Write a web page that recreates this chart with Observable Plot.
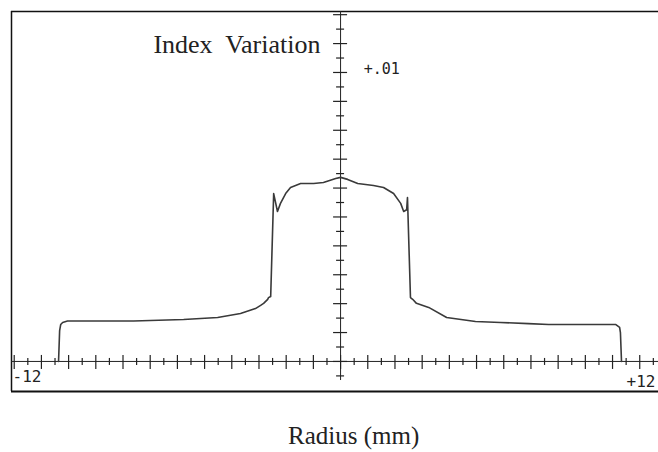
<!DOCTYPE html>
<html>
<head>
<meta charset="utf-8">
<script src="https://cdn.jsdelivr.net/npm/d3@7"></script>
<script src="https://cdn.jsdelivr.net/npm/@observablehq/plot@0.6"></script>
<style>
  html, body { margin: 0; padding: 0; background: #fff; overflow: hidden; }
  svg { display: block; }
  svg text { white-space: pre; }
</style>
</head>
<body>
<div id="chart"></div>
<script>
// Radius (mm)
const radius = [-10.37, -10.33, -10.29, -10.22, -10.04, -8.82, -7.61, -5.77, -4.52, -3.68, -3.13, -2.94, -2.83, -2.68, -2.65, -2.57,
  -2.46, -2.32, -2.21, -2.02, -1.84, -1.47, -0.99, -0.63, -0.18, 0, 0.26, 0.63, 1.21, 1.58, 1.95, 2.21, 2.32, 2.43, 2.46,
  2.57, 2.65, 2.79, 3.24, 3.90, 4.96, 5.88, 6.91, 7.65, 9.56, 10.11, 10.26, 10.29, 10.33];
// Index variation
const indexVariation = [0, 0.00107, 0.00128, 0.00135, 0.00140, 0.00140, 0.00140, 0.00145, 0.00152, 0.00166, 0.00183, 0.00194, 0.00201, 0.00215, 0.00221, 0.00225,
  0.00581, 0.00519, 0.00547, 0.00581, 0.00602, 0.00616, 0.00616, 0.00619, 0.00633, 0.00637, 0.00630, 0.00616, 0.00609, 0.00602, 0.00581, 0.00547, 0.00519, 0.00525, 0.00567,
  0.00221, 0.00215, 0.00201, 0.00187, 0.00152, 0.00138, 0.00135, 0.00131, 0.00128, 0.00128, 0.00128, 0.00118, 0.00100, 0];

const xTickValues = d3.range(-12, 11.51, 0.5);
const yTickValues = d3.range(-0.0005, 0.01201, 0.0005);
const xEndLabels = ["-12", "+12"];
const yLabel = "+.01";

const data = radius.map((r, i) => ({r, v: indexVariation[i]}));

const xDomain = [-12.10, 11.69];
const yDomain = [-0.00104, 0.01211];
const pxY = 1 / 28900;   // one pixel in y units
const pxX = 1 / 27.2;    // one pixel in x units

const isLongX = d => Math.abs(d - Math.round(d)) < 1e-6;
const isLongY = d => Math.abs(d * 1000 - Math.round(d * 1000)) < 1e-6;

const chart = Plot.plot({
  width: 658,
  height: 452,
  marginLeft: 11,
  marginRight: 0,
  marginTop: 11,
  marginBottom: 61,
  x: {domain: xDomain, axis: null},
  y: {domain: yDomain, axis: null},
  style: {background: "#fff"},
  marks: [
    // frame (left, top, bottom)
    Plot.ruleX([xDomain[0]], {stroke: "#111", strokeWidth: 1.5}),
    Plot.ruleY([yDomain[1]], {stroke: "#111", strokeWidth: 1.5}),
    Plot.ruleY([yDomain[0]], {stroke: "#111", strokeWidth: 2}),
    // axes
    Plot.ruleY([0], {stroke: "#222", strokeWidth: 1}),
    Plot.ruleX([0], {y1: -0.00066, y2: yDomain[1], stroke: "#222", strokeWidth: 1}),
    // x ticks
    Plot.ruleX(xTickValues, {
      y1: d => isLongX(d) ? -8 * pxY : -4 * pxY,
      y2: d => isLongX(d) ? 6 * pxY : 3 * pxY,
      stroke: "#222", strokeWidth: 1.2
    }),
    // y ticks
    Plot.ruleY(yTickValues, {
      x1: d => isLongY(d) ? -7 * pxX : -4 * pxX,
      x2: d => isLongY(d) ? 7 * pxX : 4 * pxX,
      stroke: "#222", strokeWidth: 1.2
    }),
    // curve
    Plot.line(data, {x: "r", y: "v", stroke: "#3a3a3a", strokeWidth: 1.6, curve: "linear"}),
    // labels
    Plot.text(["Index  Variation"], {x: -0.74, y: 0.01097, text: d => d, textAnchor: "end", lineAnchor: "middle",
      fontFamily: "Liberation Serif, Times New Roman, serif", fontSize: 26, fill: "#222"}),
    Plot.text([yLabel], {x: 0.85, y: 0.0101, text: d => d, textAnchor: "start", lineAnchor: "middle",
      fontFamily: "DejaVu Sans Mono, monospace", fontSize: 15, fill: "#222"}),
    Plot.text([xEndLabels[0]], {x: -12.06, y: -0.00052, text: d => d, textAnchor: "start", lineAnchor: "middle",
      fontFamily: "DejaVu Sans Mono, monospace", fontSize: 16, fill: "#222"}),
    Plot.text([xEndLabels[1]], {x: 11.58, y: -0.00069, text: d => d, textAnchor: "end", lineAnchor: "middle",
      fontFamily: "DejaVu Sans Mono, monospace", fontSize: 16, fill: "#222"}),
    Plot.text(["Radius (mm)"], {x: 0.48, y: -0.00258, text: d => d, textAnchor: "middle", lineAnchor: "middle",
      fontFamily: "Liberation Serif, Times New Roman, serif", fontSize: 25, fill: "#222"})
  ]
});
document.getElementById("chart").appendChild(chart);
</script>
</body>
</html>
